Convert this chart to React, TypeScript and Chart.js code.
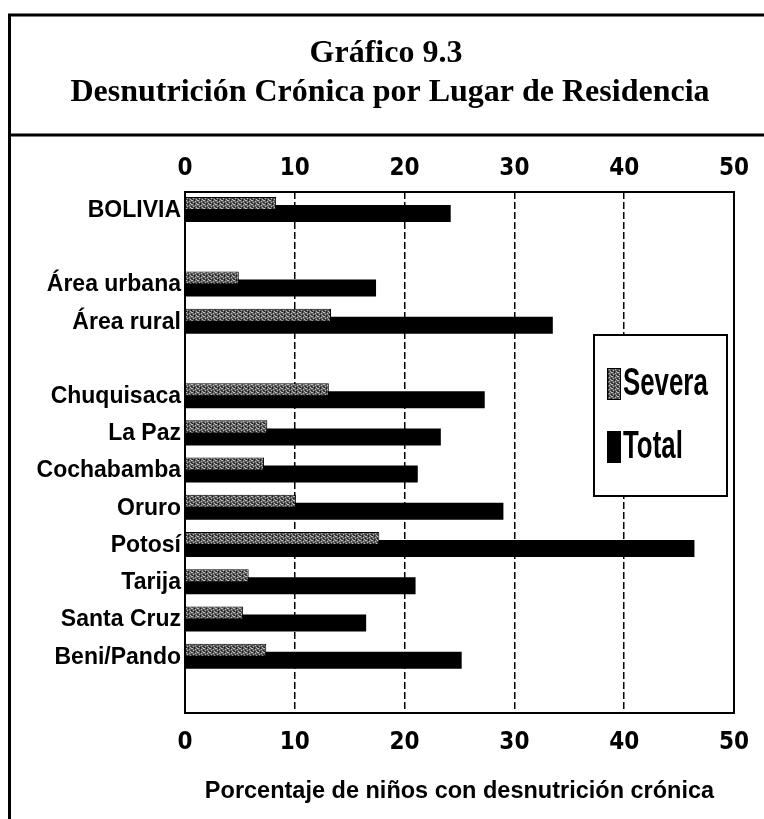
import React, { useEffect, useRef } from "react";
import { Chart, registerables } from "chart.js";

Chart.register(...registerables);

const categories = [
  "BOLIVIA",
  "",
  "Área urbana",
  "Área rural",
  "",
  "Chuquisaca",
  "La Paz",
  "Cochabamba",
  "Oruro",
  "Potosí",
  "Tarija",
  "Santa Cruz",
  "Beni/Pando",
  "",
];
const severa = [8.3, null, 4.9, 13.3, null, 13.1, 7.5, 7.2, 10.1, 17.7, 5.8, 5.3, 7.4, null];
const total = [24.2, null, 17.4, 33.5, null, 27.3, 23.3, 21.2, 29.0, 46.4, 21.0, 16.5, 25.2, null];
const seriesLabels = ["Severa", "Total"];
const xMin = 0;
const xMax = 50;
const xStep = 10;
const titleLines = ["Gráfico 9.3", "Desnutrición Crónica por Lugar de Residencia"];
const axisTitle = "Porcentaje de niños con desnutrición crónica";

const NARROW = "'Liberation Sans Narrow', 'DejaVu Sans Condensed', 'Liberation Sans', sans-serif";
const SANS = "'Liberation Sans', Arial, sans-serif";
const SERIF = "'Liberation Serif', 'Times New Roman', serif";

function makePattern(): CanvasPattern | string {
  const c = document.createElement("canvas");
  c.width = 6;
  c.height = 4;
  const p = c.getContext("2d");
  if (!p) return "#666";
  p.fillStyle = "#5c5c5c";
  p.fillRect(0, 0, 6, 4);
  p.fillStyle = "#bdbdbd";
  p.fillRect(0, 0, 1, 1);
  p.fillRect(3, 1, 1, 1);
  p.fillRect(1, 2, 1, 1);
  p.fillRect(4, 3, 1, 1);
  p.fillRect(5, 0, 1, 1);
  p.fillStyle = "#1e1e1e";
  p.fillRect(2, 0, 1, 1);
  p.fillRect(0, 3, 1, 1);
  p.fillRect(5, 2, 1, 1);
  p.fillRect(2, 3, 1, 1);
  const pat = p.createPattern(c, "repeat");
  return pat || "#666";
}

const framePlugin = {
  id: "frame",
  beforeDraw(chart: any) {
    const { ctx, width, height } = chart;
    ctx.save();
    ctx.fillStyle = "#fff";
    ctx.fillRect(0, 0, width, height);
    ctx.strokeStyle = "#000";
    ctx.lineWidth = 3;
    ctx.beginPath();
    ctx.moveTo(8, 15);
    ctx.lineTo(width, 15);
    ctx.moveTo(8, 135);
    ctx.lineTo(width, 135);
    ctx.moveTo(9.5, 14);
    ctx.lineTo(9.5, height);
    ctx.stroke();
    ctx.fillStyle = "#000";
    ctx.textAlign = "center";
    ctx.textBaseline = "middle";
    ctx.font = `bold 32px ${SERIF}`;
    ctx.fillText(titleLines[0], 386, 54);
    ctx.fillText(titleLines[1], 390, 93);
    ctx.restore();
  },
  beforeDatasetsDraw(chart: any) {
    const { ctx, chartArea } = chart;
    ctx.save();
    ctx.strokeStyle = "#000";
    ctx.lineWidth = 2;
    ctx.strokeRect(chartArea.left, chartArea.top, chartArea.right - chartArea.left, chartArea.bottom - chartArea.top);
    ctx.restore();
  },
  afterDraw(chart: any) {
    const { ctx } = chart;
    const bx = 594, by = 335, bw = 133, bh = 161;
    ctx.save();
    ctx.fillStyle = "#fff";
    ctx.fillRect(bx, by, bw, bh);
    ctx.strokeStyle = "#000";
    ctx.lineWidth = 2;
    ctx.strokeRect(bx, by, bw, bh);
    const centers = [384, 447];
    chart.data.datasets.forEach((ds: any, i: number) => {
      const cy = centers[i];
      ctx.fillStyle = ds.backgroundColor;
      ctx.fillRect(607, cy - 16, 14, 32);
      ctx.strokeStyle = "#000";
      ctx.lineWidth = 1;
      ctx.strokeRect(607.5, cy - 15.5, 13, 31);
      ctx.fillStyle = "#000";
      ctx.textAlign = "left";
      ctx.textBaseline = "middle";
      ctx.font = `bold 38px ${SANS}`;
      ctx.save();
      ctx.translate(623, cy + 1);
      ctx.scale(0.68, 1);
      ctx.fillText(ds.label, 0, 0);
      ctx.restore();
    });
    ctx.restore();
  },
};

export default function App() {
  const ref = useRef<HTMLCanvasElement | null>(null);
  useEffect(() => {
    if (!ref.current) return;
    const tickFont = { family: NARROW, size: 24, weight: "bold" as const };
    const chart = new Chart(ref.current, {
      type: "bar",
      data: {
        labels: categories,
        datasets: [
          {
            label: seriesLabels[0],
            data: severa,
            backgroundColor: makePattern() as any,
            borderColor: "#000",
            borderWidth: 1,
            categoryPercentage: 0.753,
            barPercentage: 0.93,
          },
          {
            label: seriesLabels[1],
            data: total,
            backgroundColor: "#000",
            borderWidth: 0,
            categoryPercentage: 0.323,
            barPercentage: 2.83,
          },
        ],
      },
      options: {
        indexAxis: "y",
        animation: false,
        responsive: false,
        maintainAspectRatio: false,
        layout: { padding: { top: 140, left: 10, right: 28, bottom: 0 } },
        plugins: { legend: { display: false }, tooltip: { enabled: false }, title: { display: false } },
        scales: {
          x: {
            type: "linear",
            position: "bottom",
            min: xMin,
            max: xMax,
            ticks: { stepSize: xStep, font: tickFont, color: "#000", padding: 15 },
            grid: {
              color: (c: any) => (c.tick && c.tick.value > xMin && c.tick.value < xMax ? "#000" : "rgba(0,0,0,0)"),
              lineWidth: 1.5,
              drawTicks: false,
            },
            border: { display: false, dash: [7, 3] },
            title: {
              display: true,
              text: axisTitle,
              color: "#000",
              font: { family: SANS, size: 23.5, weight: "bold" },
              padding: { top: 0, bottom: 13 },
            },
            afterFit: (s: any) => {
              s.height = 106;
            },
          },
          x2: {
            type: "linear",
            position: "top",
            min: xMin,
            max: xMax,
            ticks: { stepSize: xStep, font: tickFont, color: "#000", padding: 9 },
            grid: { display: false, drawTicks: false },
            border: { display: false },
            afterFit: (s: any) => {
              s.height = 52;
            },
          },
          y: {
            type: "category",
            ticks: {
              font: { family: SANS, size: 23, weight: "bold" },
              color: "#000",
              padding: 4,
              autoSkip: false,
            },
            grid: { display: false, drawTicks: false },
            border: { display: false },
            afterFit: (s: any) => {
              s.width = 175;
            },
          },
        },
      },
      plugins: [framePlugin],
    } as any);
    return () => chart.destroy();
  }, []);
  return (
    <div style={{ position: "absolute", left: 0, top: 0, width: 764, height: 819 }}>
      <canvas ref={ref} width={764} height={819} style={{ width: 764, height: 819 }} />
    </div>
  );
}
